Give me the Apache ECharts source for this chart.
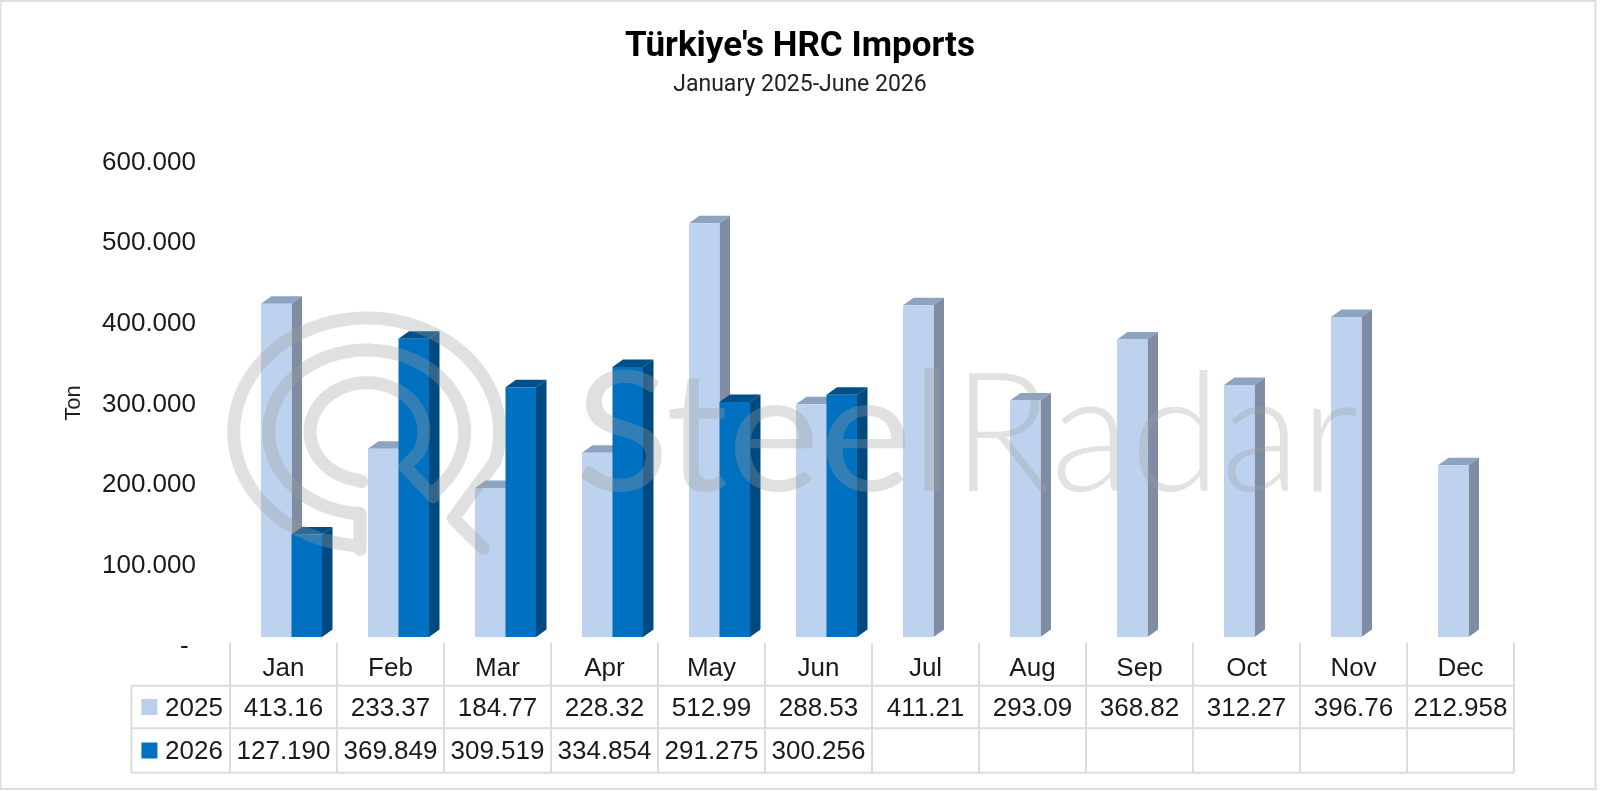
<!DOCTYPE html>
<html>
<head>
<meta charset="utf-8">
<style>html,body{margin:0;padding:0;background:#fff}#c{width:1600px;height:791px}</style>
<script src="https://cdn.jsdelivr.net/npm/echarts@6/dist/echarts.min.js"></script>
</head>
<body>
<div id="c"></div>
<script>
const months = ['Jan','Feb','Mar','Apr','May','Jun','Jul','Aug','Sep','Oct','Nov','Dec'];
const values2025 = [413.16,233.37,184.77,228.32,512.99,288.53,411.21,293.09,368.82,312.27,396.76,212.958];
const values2026 = [127.190,369.849,309.519,334.854,291.275,300.256,null,null,null,null,null,null];
const tableRow2025 = ['413.16','233.37','184.77','228.32','512.99','288.53','411.21','293.09','368.82','312.27','396.76','212.958'];
const tableRow2026 = ['127.190','369.849','309.519','334.854','291.275','300.256','','','','','',''];
const yTicks = {min:0,max:600,interval:100};

const FONT = '"Liberation Sans", Arial, sans-serif';
const HEAD = 'Roboto, "Liberation Sans", sans-serif';
const C25 = {front:'#bdd2ee',top:'#8ea3bf',side:'#7e8da3'};
const C26 = {front:'#0070c0',top:'#004f88',side:'#004a80'};
const BW = 30.5, DX = 10.5, DY = 7.5;

function depthRender(offset, col){
  return function(params, api){
    const v = api.value(1);
    if (v === null || v === undefined || isNaN(v)) return;
    const t = api.coord([api.value(0), v]);
    const b = api.coord([api.value(0), 0]);
    const l = t[0] + offset, r = l + BW;
    return {type:'group',children:[
      {type:'polygon',shape:{points:[[l,t[1]],[r,t[1]],[r+DX,t[1]-DY],[l+DX,t[1]-DY]]},style:{fill:col.top}},
      {type:'polygon',shape:{points:[[r,t[1]],[r+DX,t[1]-DY],[r+DX,b[1]-DY],[r,b[1]]]},style:{fill:col.side}}
    ]};
  };
}

// table + frame graphics
const LINE = '#dcdcdc';
const TX0 = 230, CW = 107, TL = 131.4, R0 = 685.7, R1 = 728.3, R2 = 772.7, TT = 643;
const gfx = [];
gfx.push({type:'rect',shape:{x:0.5,y:1,width:1595,height:788},style:{fill:'none',stroke:'#dedede',lineWidth:2},silent:true,z:0});
function ln(x1,y1,x2,y2){gfx.push({type:'line',shape:{x1,y1,x2,y2},style:{stroke:LINE,lineWidth:2},z:5,silent:true});}
for(let i=0;i<=12;i++){ln(TX0+i*CW,TT,TX0+i*CW,R2);}
ln(TL,R0,TL,R2);
[R0,R1,R2].forEach(y=>ln(TL,y,TX0+12*CW,y));
function cell(txt,cx,cy){gfx.push({type:'text',x:cx,y:cy,style:{text:txt,fill:'#1a1a1a',font:'26px '+FONT,align:'center',verticalAlign:'middle'},z:6,silent:true});}
months.forEach((m,i)=>{
  cell(tableRow2025[i],TX0+CW*(i+.5),708.5);
  if(tableRow2026[i]) cell(tableRow2026[i],TX0+CW*(i+.5),751.5);
});
cell('2025',194,708.5);cell('2026',194,751.5);
gfx.push({type:'rect',shape:{x:141.4,y:699,width:16,height:16},style:{fill:'#b9cfec'},z:6,silent:true});
gfx.push({type:'rect',shape:{x:141.4,y:742.5,width:16,height:16},style:{fill:'#0070c0'},z:6,silent:true});

// watermark (not data): a single spiral stroke plus the brand name
const WM = 'rgba(160,160,160,0.32)';
const cx=366.7, cy=432;
function arc(ox,oy,rx,ry,a0,a1){const p=[];const n=Math.ceil(Math.abs(a1-a0)/4);for(let i=0;i<=n;i++){const a=(a0+(a1-a0)*i/n)*Math.PI/180;p.push([ox+rx*Math.cos(a),oy+ry*Math.sin(a)]);}return p;}
const z2=(x,y)=>[220+x/3,280+y/3];
const spiral=[].concat(
  [z2(425,605)],
  arc(367,431.7,57,49,100,385),
  [z2(555,560),z2(640,650)],
  arc(cx,cy,98,82,45,-263),
  [z2(420,700),z2(420,808)],
  arc(cx,cy,133,114,93,375),
  [z2(700,715),z2(790,805)]
);
gfx.push({type:'polyline',shape:{points:spiral},style:{fill:'none',stroke:WM,lineWidth:13,lineCap:'round',lineJoin:'round'},z:50,silent:true});
gfx.push({type:'text',x:575,y:437,scaleX:1.05,style:{text:'Steel',fill:WM,font:'400 166px Lato, '+FONT,verticalAlign:'middle'},z:50,silent:true});
gfx.push({type:'text',x:952,y:437,scaleX:0.99,style:{text:'Radar',fill:'rgba(160,160,160,0.3)',font:'300 166px Lato, '+FONT,verticalAlign:'middle'},z:50,silent:true});

const chart = echarts.init(document.getElementById('c'),null,{renderer:'canvas'});
chart.setOption({
  animation:false,
  backgroundColor:'#ffffff',
  textStyle:{fontFamily:FONT},
  title:{text:"Türkiye's HRC Imports",subtext:'January 2025-June 2026',left:'center',top:25,itemGap:9,
    textStyle:{fontFamily:HEAD,fontWeight:'bold',fontSize:35,color:'#000'},
    subtextStyle:{fontFamily:HEAD,fontSize:23,color:'#222'}},
  grid:{left:238,top:153,width:1284,height:484,containLabel:false,outerBoundsMode:'none'},
  xAxis:{type:'category',data:months,axisLine:{show:false},axisTick:{show:false},
    axisLabel:{color:'#1a1a1a',fontSize:26,fontFamily:FONT,margin:19,padding:[0,16,0,0],interval:0}},
  yAxis:{type:'value',min:yTicks.min,max:yTicks.max,interval:yTicks.interval,splitLine:{show:false},axisLine:{show:false},axisTick:{show:false},
    name:'Ton',nameLocation:'middle',nameGap:153,nameTextStyle:{fontSize:22,color:'#222',fontFamily:FONT,padding:[0,16,0,0]},
    axisLabel:{color:'#1a1a1a',fontSize:26,fontFamily:FONT,margin:42,verticalAlign:'top',lineHeight:19,
      formatter:v=>v===0?'- ':v.toFixed(3)}},
  graphic:{elements:gfx},
  series:[
    {type:'custom',name:'2025 depth',z:1,silent:true,data:months.map((m,i)=>[i,values2025[i]]),encode:{x:0,y:1},renderItem:depthRender(-BW,C25)},
    {type:'bar',name:'2025',z:2,silent:true,data:values2025,barWidth:BW,barGap:0,itemStyle:{color:C25.front}},
    {type:'custom',name:'2026 depth',z:3,silent:true,data:months.map((m,i)=>[i,values2026[i]]),encode:{x:0,y:1},renderItem:depthRender(0,C26)},
    {type:'bar',name:'2026',z:4,silent:true,data:values2026,barWidth:BW,barGap:0,itemStyle:{color:C26.front}}
  ]
});
</script>
</body>
</html>
